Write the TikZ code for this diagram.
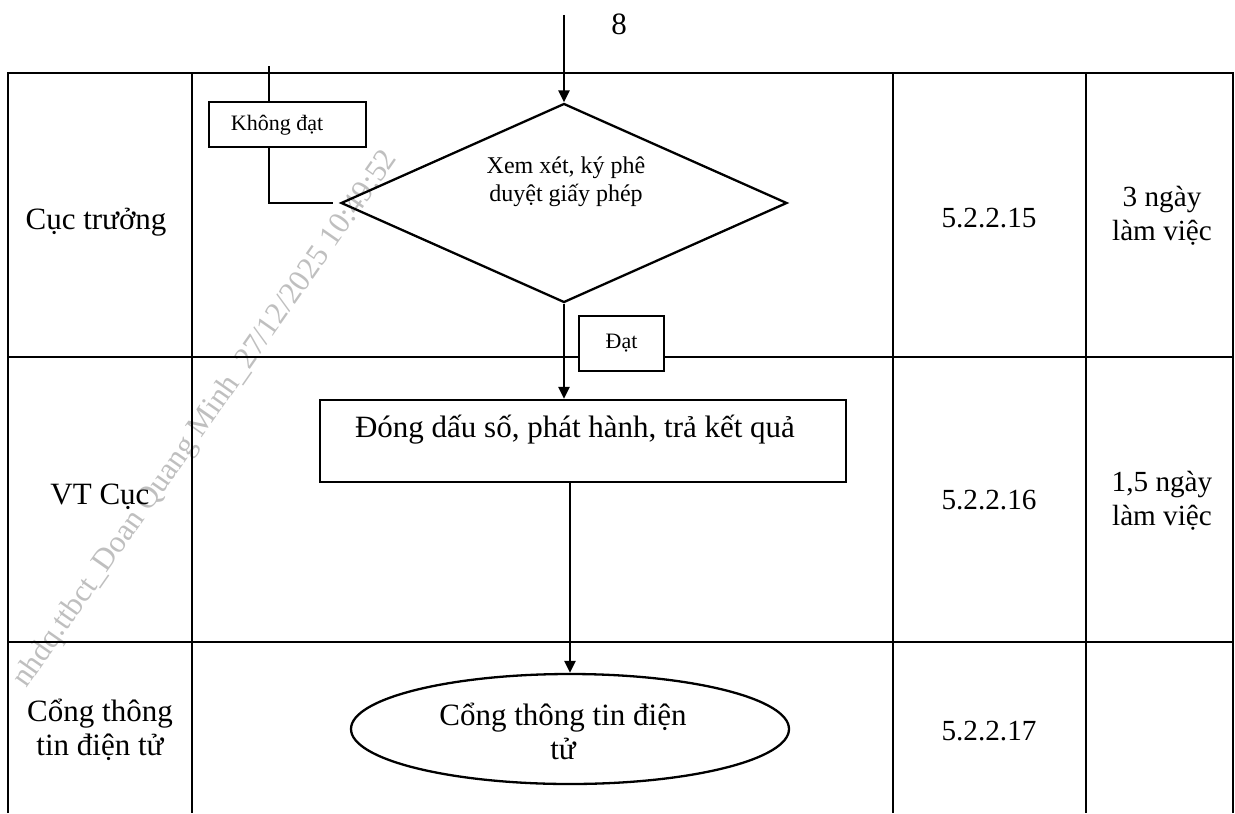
\documentclass[tikz,border=0pt]{standalone}
\usepackage{fontspec}
\setmainfont{Liberation Serif}
\usetikzlibrary{shapes.geometric,arrows.meta}
\begin{document}
\begin{tikzpicture}[x=0.5pt,y=-0.5pt,
  tbl/.style={line width=0.85pt},
  ln/.style={line width=1.15pt},
  shp/.style={draw,line width=1.15pt,inner sep=0pt},
  arr/.style={line width=1.15pt,-{Triangle[length=6pt,width=5.5pt]}},
  big/.style={font=\fontsize{15.5}{17}\selectfont,align=center,inner sep=0pt},
  mid/.style={font=\fontsize{14.6}{17}\selectfont,align=center,inner sep=0pt},
  small/.style={font=\fontsize{12}{14}\selectfont,align=center,inner sep=0pt},
  tiny/.style={font=\fontsize{11}{13}\selectfont,align=center,inner sep=0pt},
  wmark/.style={font=\fontsize{15.5}{18}\selectfont,text=black!25,inner sep=0pt}]
\useasboundingbox (0,0) rectangle (1235,813);
\fill[white] (0,0) rectangle (1235,813);
% watermark
\node[wmark,rotate=55,anchor=base east] (wm) at (398,158) {nhdq.ttbct\_Doan Quang Minh\_27/12/2025 10:49:52};
% table
\draw[tbl] (8,813) -- (8,73) -- (1233,73) -- (1233,813);
\draw[tbl] (192,73) -- (192,813);
\draw[tbl] (893,73) -- (893,813);
\draw[tbl] (1086,73) -- (1086,813);
\draw[tbl] (8,357) -- (1233,357);
\draw[tbl] (8,642) -- (1233,642);
% row labels
\node[big] (r1) at (96,222) {Cục trưởng};
\node[big] (r2) at (100,497) {VT Cục};
\node[big] (r3) at (100,730) {Cổng thông\\tin điện tử};
% codes
\node[mid] (c1) at (989,218) {5.2.2.15};
\node[mid] (c2) at (989,500) {5.2.2.16};
\node[mid] (c3) at (989,731) {5.2.2.17};
% durations
\node[mid] (t1) at (1162,216) {3 ngày\\làm việc};
\node[mid] (t2) at (1162,501) {1,5 ngày\\làm việc};
% flow
\coordinate (top) at (564,15);
\node[big] (eight) at (619,24) {8};
\node[shp,diamond,minimum width=223pt,minimum height=99.5pt] (d) at (564,203) {};
\node[small] (dt) at (566,182) {Xem xét, ký phê\\duyệt giấy phép};
\draw[arr] (top) -- (d.north);
\node[shp,minimum width=78.5pt,minimum height=22.5pt] (kd) at (287.5,124.5) {};
\node[tiny] (kdt) at (277,125) {Không đạt};
\coordinate (k1) at (269,203);
\coordinate (k0) at (269,66);
\draw[ln,shorten <=3.5pt] (d.west) -- (k1) -- (k1 |- kd.south);
\draw[ln] (k1 |- kd.north) -- (k0);
\node[shp,tiny,fill=white,minimum width=42.5pt,minimum height=27.5pt] (dat) at (621.5,343.5) {Đạt};
\node[shp,minimum width=263pt,minimum height=41pt] (proc) at (583,441) {};
\node[big] (proct) at (575,430) {Đóng dấu số, phát hành, trả kết quả};
\draw[arr] (d.south) -- (d.south |- proc.north);
\node[shp,ellipse,minimum width=219pt,minimum height=55pt] (ell) at (570,729) {};
\node[big] (ellt) at (563,731) {Cổng thông tin điện\\tử};
\draw[arr] (ell.north |- proc.south) -- (ell.north);
\end{tikzpicture}
\end{document}
